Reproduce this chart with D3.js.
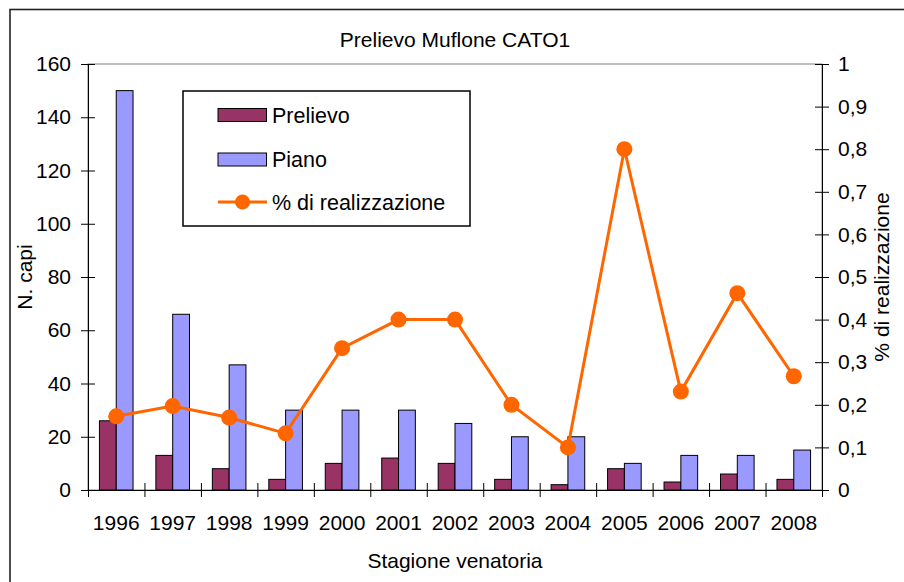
<!DOCTYPE html>
<html>
<head>
<meta charset="utf-8">
<script src="https://cdn.jsdelivr.net/npm/d3@7"></script>
<style>
  body { margin: 0; background: #fff; }
  svg text { font-family: "Liberation Sans", Arial, sans-serif; fill: #000; }
</style>
</head>
<body>
<div id="chart"></div>
<script>
// data
var years = ["1996", "1997", "1998", "1999", "2000", "2001", "2002", "2003", "2004", "2005", "2006", "2007", "2008"];
var prelievo = [26, 13, 8, 4, 10, 12, 10, 4, 2, 8, 3, 6, 4];
var piano = [150, 66, 47, 30, 30, 30, 25, 20, 20, 10, 13, 13, 15];
var realizzazione = [0.173, 0.197, 0.170, 0.133, 0.333, 0.400, 0.400, 0.200, 0.100, 0.800, 0.231, 0.462, 0.267];
var leftTicks = [0, 20, 40, 60, 80, 100, 120, 140, 160];
var rightTicks = [0, 0.1, 0.2, 0.3, 0.4, 0.5, 0.6, 0.7, 0.8, 0.9, 1];

var W = 904, H = 582;
var pLeft = 88, pRight = 822, pTop = 64, pBottom = 490;
var fs = "21px";

var svg = d3.select("#chart").append("svg")
    .attr("width", W).attr("height", H);

// outer chart border
svg.append("rect").attr("x", 10).attr("y", 9.5).attr("width", 1000).attr("height", 1000)
    .attr("fill", "#fff").attr("stroke", "#222").attr("stroke-width", 1.6);

// plot area border
svg.append("rect").attr("x", pLeft).attr("y", pTop)
    .attr("width", pRight - pLeft).attr("height", pBottom - pTop)
    .attr("fill", "none").attr("stroke", "#808080").attr("stroke-width", 1);

var x0 = d3.scaleBand().domain(years).range([pLeft, pRight]).padding(0);
var x1 = d3.scaleBand().domain(["prelievo", "piano"]).range([0, x0.bandwidth()])
    .paddingInner(0).paddingOuter(0.68);
var y = d3.scaleLinear().domain([0, 160]).range([pBottom, pTop]);
var y2 = d3.scaleLinear().domain([0, 1]).range([pBottom, pTop]);
var colors = { prelievo: "#993366", piano: "#9999FF" };

// bars
var groups = svg.append("g").selectAll("g").data(years).enter().append("g")
    .attr("transform", function(d) { return "translate(" + x0(d) + ",0)"; });
groups.append("rect")
    .attr("x", x1("prelievo")).attr("width", x1.bandwidth())
    .attr("y", function(d, i) { return y(prelievo[i]); })
    .attr("height", function(d, i) { return pBottom - y(prelievo[i]); })
    .attr("fill", colors.prelievo).attr("stroke", "#000").attr("stroke-width", 1);
groups.append("rect")
    .attr("x", x1("piano")).attr("width", x1.bandwidth())
    .attr("y", function(d, i) { return y(piano[i]); })
    .attr("height", function(d, i) { return pBottom - y(piano[i]); })
    .attr("fill", colors.piano).attr("stroke", "#000").attr("stroke-width", 1);

// left axis
var ya = svg.append("g").attr("transform", "translate(" + pLeft + ",0)")
    .call(d3.axisLeft(y).tickValues(leftTicks).tickSize(7).tickPadding(10));
ya.selectAll(".tick line").attr("x1", 7);
ya.selectAll("text").style("font-size", fs);

// right axis
var comma = function(v) { return d3.format(".1~f")(v).replace(".", ","); };
var ya2 = svg.append("g").attr("transform", "translate(" + pRight + ",0)")
    .call(d3.axisRight(y2).tickValues(rightTicks).tickSize(7).tickPadding(9).tickFormat(comma));
ya2.selectAll(".tick line").attr("x1", -7);
ya2.selectAll("text").style("font-size", fs);

// x axis: boundary ticks and centred labels
var xb = d3.scaleLinear().domain([0, years.length]).range([pLeft, pRight]);
var xa = svg.append("g").attr("transform", "translate(0," + pBottom + ")")
    .call(d3.axisBottom(xb).tickValues(d3.range(years.length + 1)).tickSize(7).tickFormat(""));
xa.selectAll(".tick line").attr("y1", -7);
var xl = svg.append("g").attr("transform", "translate(0," + pBottom + ")")
    .call(d3.axisBottom(x0).tickSize(0).tickPadding(25));
xl.select(".domain").remove();
xl.selectAll("text").style("font-size", fs);

svg.selectAll(".domain").attr("stroke", "#000");
svg.selectAll(".tick line").attr("stroke", "#000");

// line series
var line = d3.line()
    .x(function(d, i) { return x0(years[i]) + x0.bandwidth() / 2; })
    .y(function(d) { return y2(d); });
svg.append("path").datum(realizzazione).attr("d", line)
    .attr("fill", "none").attr("stroke", "#FF6600").attr("stroke-width", 3);
svg.append("g").selectAll("circle").data(realizzazione).enter().append("circle")
    .attr("cx", function(d, i) { return x0(years[i]) + x0.bandwidth() / 2; })
    .attr("cy", function(d) { return y2(d); })
    .attr("r", 8).attr("fill", "#FF6600");

// titles
svg.append("text").attr("x", (pLeft + pRight) / 2).attr("y", 47)
    .attr("text-anchor", "middle").style("font-size", fs).text("Prelievo Muflone CATO1");
svg.append("text").attr("x", (pLeft + pRight) / 2).attr("y", 568)
    .attr("text-anchor", "middle").style("font-size", fs).text("Stagione venatoria");
svg.append("text").attr("transform", "translate(32," + (pTop + pBottom) / 2 + ") rotate(-90)")
    .attr("text-anchor", "middle").style("font-size", fs).text("N. capi");
svg.append("text").attr("transform", "translate(889," + (pTop + pBottom) / 2 + ") rotate(-90)")
    .attr("text-anchor", "middle").style("font-size", fs).text("% di realizzazione");

// legend
var lg = svg.append("g");
lg.append("rect").attr("x", 183).attr("y", 91).attr("width", 287).attr("height", 135)
    .attr("fill", "#fff").attr("stroke", "#000").attr("stroke-width", 1.5);
var legendItems = [
    { name: "Prelievo", key: "prelievo", cy: 115 },
    { name: "Piano", key: "piano", cy: 159.5 },
    { name: "% di realizzazione", key: "line", cy: 202 }
];
legendItems.forEach(function(it) {
    if (it.key === "line") {
        lg.append("line").attr("x1", 218).attr("x2", 267).attr("y1", it.cy).attr("y2", it.cy)
            .attr("stroke", "#FF6600").attr("stroke-width", 3);
        lg.append("circle").attr("cx", 242.5).attr("cy", it.cy).attr("r", 7.5).attr("fill", "#FF6600");
    } else {
        lg.append("rect").attr("x", 218).attr("y", it.cy - 6.5).attr("width", 48.5).attr("height", 13)
            .attr("fill", colors[it.key]).attr("stroke", "#000").attr("stroke-width", 1);
    }
    lg.append("text").attr("x", 272).attr("y", it.cy + 7.5).style("font-size", "21.5px").text(it.name);
});
</script>
</body>
</html>
